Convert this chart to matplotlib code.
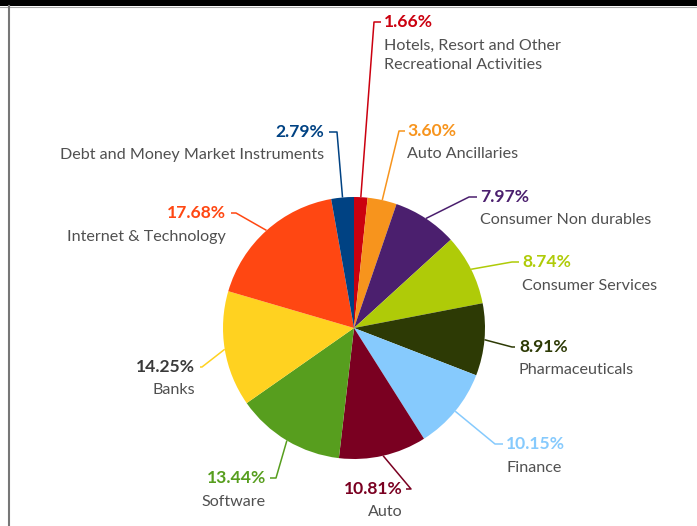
import numpy as np
import matplotlib
matplotlib.use("Agg")
import matplotlib.pyplot as plt

# sector allocation, clockwise from 12 o'clock
sectors = ["Hotels, Resort and Other\nRecreational Activities", "Auto Ancillaries",
           "Consumer Non durables", "Consumer Services", "Pharmaceuticals", "Finance",
           "Auto", "Software", "Banks", "Internet & Technology",
           "Debt and Money Market Instruments"]
weights = [1.66, 3.60, 7.97, 8.74, 8.91, 10.15, 10.81, 13.44, 14.25, 17.68, 2.79]
colors = ["#CB000F", "#F7941D", "#4B1F6E", "#AFCB08", "#2D3A05", "#86CAFD",
          "#7A0021", "#579E1E", "#FFD220", "#FF4712", "#004283"]
pct_colors = list(colors)
pct_colors[8] = "#3a3a3a"  # Banks percentage is printed in dark grey

# label layout in pixel space (y from top): elbow, line end, text x, alignment
layout = [
    ((374, 22), (381, 22), 384, "left"),
    ((399, 131), (405, 131), 407, "left"),
    ((469, 197), (477, 197), 480, "left"),
    ((512, 262), (519, 262), 522, "left"),
    ((512, 347), (515, 347), 519, "left"),
    ((495, 444), (503, 444), 506, "left"),
    ((411, 489), (406, 489), 403, "right"),
    ((276, 478), (270, 478), 266, "right"),
    ((202, 367), (200, 367), 195, "right"),
    ((236, 213), (231, 213), 226, "right"),
    ((337, 132), (329, 132), 324, "right"),
]

W, H = 697, 526
cx, cy, R = 354, 328, 131

fig = plt.figure(figsize=(W / 100, H / 100), dpi=100)
ax = fig.add_axes([0, 0, 1, 1])
ax.pie(weights, colors=colors, startangle=90, counterclock=False,
       center=(cx, H - cy), radius=R, wedgeprops=dict(linewidth=0))
ax.set_xlim(0, W)
ax.set_ylim(0, H)
ax.set_aspect("equal")
ax.axis("off")

font = "Lato"
cum = np.cumsum([0] + weights)
for i, name in enumerate(sectors):
    mid = (cum[i] + cum[i + 1]) / 2 / 100 * 2 * np.pi
    sx = cx + R * np.sin(mid)
    sy = H - (cy - R * np.cos(mid))
    elbow, end, tx, ha = layout[i]
    xs = [sx, elbow[0], end[0]]
    ys = [sy, H - elbow[1], H - end[1]]
    ax.plot(xs, ys, color=colors[i], lw=1.1, solid_capstyle="butt")
    ax.text(tx, H - end[1], f"{weights[i]:.2f}%", color=pct_colors[i], ha=ha,
            va="center", fontsize=12.6, fontweight="bold", family=font)
    ax.text(tx, H - end[1] - 16.5, name, color="#505050", ha=ha, va="top",
            fontsize=11.6, family=font, linespacing=1.5)

# frame bits: black band at top, thin grey rule at left
ax.add_patch(plt.Rectangle((0, H - 6), W, 6, color="black", lw=0))
ax.plot([0, W], [H - 6.5, H - 6.5], color="#aaaaaa", lw=0.8)
ax.plot([8.5, 8.5], [0, H - 6], color="#777777", lw=1.5)

fig.savefig("out.png", dpi=100)
